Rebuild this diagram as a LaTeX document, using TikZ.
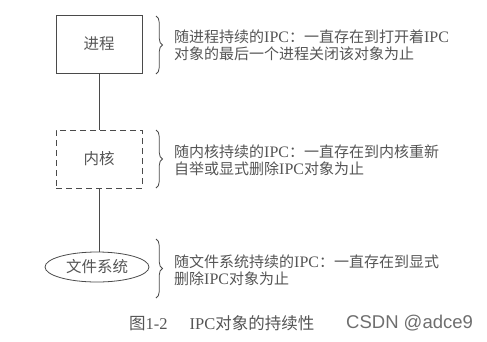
\documentclass[tikz,border=0pt]{standalone}
\usepackage{fontspec}
\setmainfont{Liberation Serif}
\newfontfamily\cjk{Noto Sans CJK SC}
\newfontfamily\wm{Liberation Sans}
\usetikzlibrary{shapes.geometric,decorations.pathreplacing}
\definecolor{ink}{HTML}{4A4A4A}
\definecolor{txt}{HTML}{555555}
\tikzset{
  boxstyle/.style={draw=ink, line width=0.8pt, minimum width=86pt, minimum height=58pt, inner sep=0pt, text=txt, font=\cjk\fontsize{15.5}{17}\selectfont},
  dashbox/.style={boxstyle, dash pattern=on 6pt off 4pt},
  ellstyle/.style={ellipse, draw=ink, line width=0.8pt, minimum width=104pt, minimum height=30pt, inner sep=0pt, text=txt, font=\cjk\fontsize{15.5}{17}\selectfont},
  conn/.style={draw=ink, line width=0.8pt},
  bracestyle/.style={draw=ink, line width=0.8pt, decorate, decoration={brace, amplitude=6.5pt}},
  desc/.style={anchor=west, align=left, inner sep=0pt, text=txt, font=\fontsize{16}{17}\selectfont},
}
\newcommand{\zb}[1]{{\cjk\fontsize{15}{17}\selectfont #1}}
\begin{document}
\begin{tikzpicture}[x=1pt,y=-1pt]
\useasboundingbox (0,0) rectangle (487,341);
\node[boxstyle] (p) at (99,44) {进程};
\node[dashbox] (k) at (99,159) {内核};
\node[ellstyle] (f) at (97,267) {文件系统};
\draw[conn] (p.south) -- (k.north);
\draw[conn] (k.south) -- (f.north -| k.south);
\coordinate (b1t) at (156,16);
\coordinate (b1b) at (156,74);
\coordinate (b2t) at (156,130);
\coordinate (b2b) at (156,188);
\coordinate (b3t) at (156,239);
\coordinate (b3b) at (156,298);
\draw[bracestyle] (b1t) -- (b1b);
\draw[bracestyle] (b2t) -- (b2b);
\draw[bracestyle] (b3t) -- (b3b);
\node[desc] (t1) at (174,45.5) {\zb{随进程持续的}IPC\zb{：一直存在到打开着}IPC\\\zb{对象的最后一个进程关闭该对象为止}};
\node[desc] (t2) at (174,160) {\zb{随内核持续的}IPC\zb{：一直存在到内核重新}\\\zb{自举或显式删除}IPC\zb{对象为止}};
\node[desc] (t3) at (174,270) {\zb{随文件系统持续的}IPC\zb{：一直存在到显式}\\\zb{删除}IPC\zb{对象为止}};
\node[anchor=west, inner sep=0pt, text=txt, font=\fontsize{16.5}{18}\selectfont] (cap) at (129,323) {{\cjk 图}1-2\hspace{22pt}IPC{\cjk 对象的持续性}};
\node[anchor=west, inner sep=0pt, text=txt!85, font=\wm\fontsize{18.5}{20}\selectfont] (wm) at (346,323) {CSDN @adce9};
\end{tikzpicture}
\end{document}
